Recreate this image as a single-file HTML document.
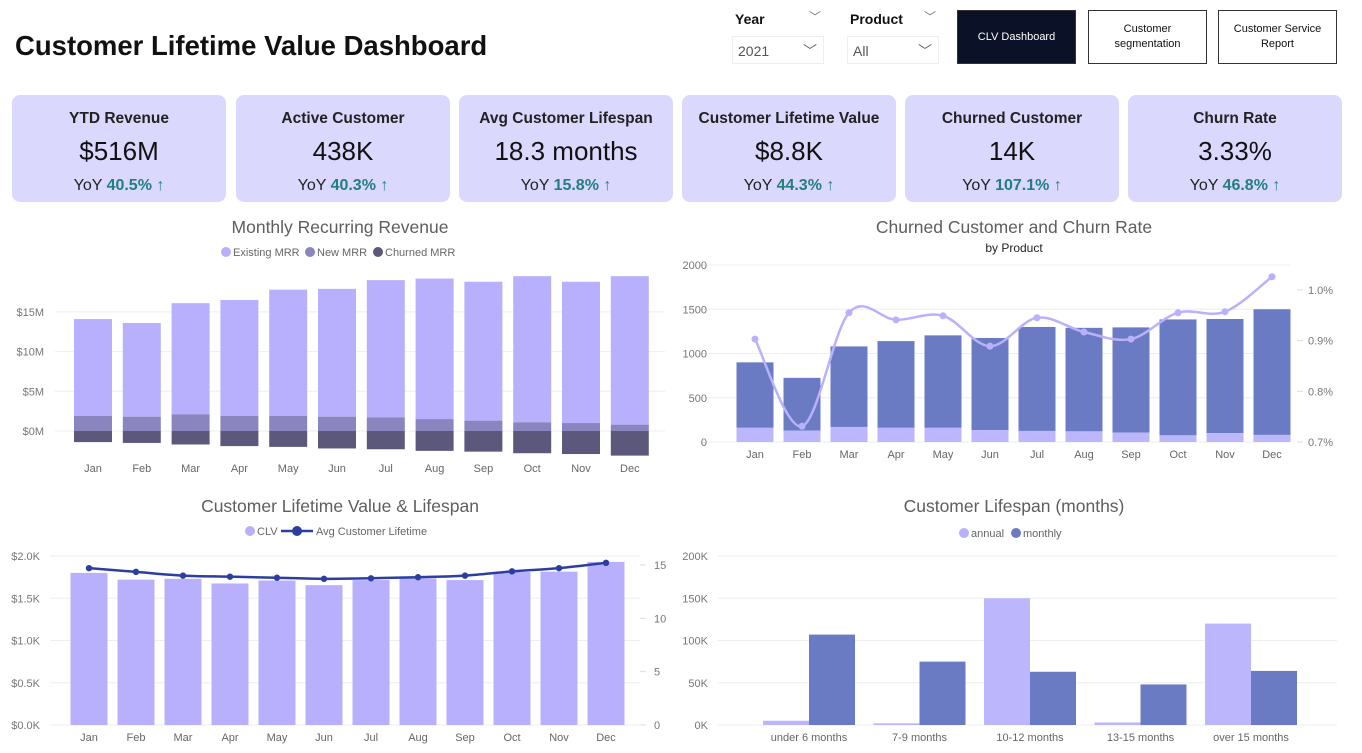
<!DOCTYPE html>
<html><head><meta charset="utf-8">
<style>
*{box-sizing:border-box;margin:0;padding:0}
body{width:1362px;height:753px;background:#fff;font-family:"Liberation Sans",sans-serif;position:relative;overflow:hidden;color:#111}
.abs{position:absolute}
.card{position:absolute;top:95px;height:107px;width:214px;background:#dbd8fd;border-radius:8px;text-align:center}
.card .t{position:absolute;top:15px;width:100%;font-size:15.5px;font-weight:bold;color:#222}
.card .v{position:absolute;top:41px;width:100%;font-size:26px;color:#111}
.card .y{position:absolute;top:82px;width:100%;font-size:16px;color:#222}
.card .y b{color:#237f7f}
.btn{position:absolute;top:10px;height:54px;width:119px;border:1px solid #333;font-size:11px;display:flex;align-items:center;justify-content:center;text-align:center;line-height:15px;background:#fff}
.lbl{position:absolute;font-size:14px;font-weight:bold}
.dd{position:absolute;top:36px;height:28px;width:92px;border:1px solid #eee;font-size:14px;color:#555;padding:6px 5px}
svg text{font-family:"Liberation Sans",sans-serif}
</style></head><body>
<div class="abs" style="left:15px;top:30px;font-size:27.5px;font-weight:bold;color:#111">Customer Lifetime Value Dashboard</div>
<div class="lbl" style="left:735px;top:11px">Year</div>
<div class="abs" style="left:809px;top:8px;font-size:12px;color:#777">﹀</div>
<div class="dd" style="left:732px">2021<span style="position:absolute;right:6px;top:4px;color:#666">﹀</span></div>
<div class="lbl" style="left:850px;top:11px">Product</div>
<div class="abs" style="left:924px;top:8px;font-size:12px;color:#777">﹀</div>
<div class="dd" style="left:847px">All<span style="position:absolute;right:6px;top:4px;color:#666">﹀</span></div>
<div class="btn" style="left:957px;background:#0b1127;color:#fff">CLV Dashboard</div>
<div class="btn" style="left:1088px">Customer<br>segmentation</div>
<div class="btn" style="left:1218px">Customer Service<br>Report</div>

<div class="card" style="left:12px"><div class="t">YTD Revenue</div><div class="v">$516M</div><div class="y">YoY <b>40.5% ↑</b></div></div>
<div class="card" style="left:236px"><div class="t">Active Customer</div><div class="v">438K</div><div class="y">YoY <b>40.3% ↑</b></div></div>
<div class="card" style="left:459px"><div class="t">Avg Customer Lifespan</div><div class="v">18.3 months</div><div class="y">YoY <b>15.8% ↑</b></div></div>
<div class="card" style="left:682px"><div class="t">Customer Lifetime Value</div><div class="v">$8.8K</div><div class="y">YoY <b>44.3% ↑</b></div></div>
<div class="card" style="left:905px"><div class="t">Churned Customer</div><div class="v">14K</div><div class="y">YoY <b>107.1% ↑</b></div></div>
<div class="card" style="left:1128px"><div class="t">Churn Rate</div><div class="v">3.33%</div><div class="y">YoY <b>46.8% ↑</b></div></div>

<svg id="charts" class="abs" style="left:0;top:0" width="1362" height="753"></svg>

<script>
const months=["Jan","Feb","Mar","Apr","May","Jun","Jul","Aug","Sep","Oct","Nov","Dec"];
// MRR (millions)
const mrrTotal=[14.1,13.6,16.1,16.5,17.8,17.9,19.0,19.2,18.8,19.5,18.8,19.5];
const mrrNew=[1.9,1.8,2.1,1.9,1.9,1.8,1.7,1.5,1.3,1.1,1.0,0.8];
const mrrChurned=[-1.4,-1.5,-1.7,-1.9,-2.0,-2.2,-2.3,-2.5,-2.6,-2.8,-2.9,-3.1];
const mrrTicks=["$0M","$5M","$10M","$15M"];
// Churn
const churnTotal=[900,725,1080,1140,1205,1175,1300,1290,1295,1385,1390,1500];
const churnLight=[160,130,170,160,160,135,125,120,105,75,100,80];
const churnRate=[0.903,0.731,0.955,0.941,0.949,0.889,0.945,0.917,0.903,0.955,0.957,1.026];
const churnTicks=["0","500","1000","1500","2000"];
const rateTicks=["0.7%","0.8%","0.9%","1.0%"];
// CLV
const clv=[1800,1720,1730,1675,1710,1655,1715,1735,1715,1810,1815,1930];
const lifetime=[14.7,14.35,14.0,13.9,13.8,13.7,13.75,13.85,14.0,14.4,14.7,15.2];
const clvTicks=["$0.0K","$0.5K","$1.0K","$1.5K","$2.0K"];
const lifeTicks=["0","5","10","15"];
// Lifespan
const spanCats=["under 6 months","7-9 months","10-12 months","13-15 months","over 15 months"];
const spanAnnual=[5,2,150,3,120];
const spanMonthly=[107,75,63,48,64];
const spanTicks=["0K","50K","100K","150K","200K"];

const svg=document.getElementById('charts');
const NS="http://www.w3.org/2000/svg";
function el(tag,attrs,parent){const e=document.createElementNS(NS,tag);for(const k in attrs)e.setAttribute(k,attrs[k]);(parent||svg).appendChild(e);return e;}
function txt(x,y,s,size,fill,anchor,parent,weight){const t=el('text',{x:x,y:y,'font-size':size,fill:fill,'text-anchor':anchor||'middle','font-weight':weight||'normal'},parent);t.textContent=s;return t;}
function grp(name){const g=el('g',{});return g;}
function legendDot(g,x,y,c,label){el('circle',{cx:x,cy:y,r:5,fill:c},g);txt(x+7,y+4,label,11,'#666','start',g);}
function smooth(pts){let d="M"+pts[0][0]+","+pts[0][1];for(let i=0;i<pts.length-1;i++){const p0=pts[Math.max(0,i-1)],p1=pts[i],p2=pts[i+1],p3=pts[Math.min(pts.length-1,i+2)];const c1x=p1[0]+(p2[0]-p0[0])/6,c1y=p1[1]+(p2[1]-p0[1])/6,c2x=p2[0]-(p3[0]-p1[0])/6,c2y=p2[1]-(p3[1]-p1[1])/6;d+=" C"+c1x+","+c1y+" "+c2x+","+c2y+" "+p2[0]+","+p2[1];}return d;}

// ---- Chart 1 MRR
(function(){
 const g=grp('mrr-chart');
 txt(340,233,"Monthly Recurring Revenue",17.5,'#605e5c','middle',g);
 legendDot(g,226,252,'#b8b0fc','Existing MRR');legendDot(g,310,252,'#8a84bf','New MRR');legendDot(g,378,252,'#5b587c','Churned MRR');
 const y=v=>431-v*7.94, x=i=>93+i*48.8;
 mrrTicks.forEach((t,i)=>{el('line',{x1:55,x2:665,y1:y(i*5),y2:y(i*5),stroke:'#eee'},g);txt(44,y(i*5)+4,t,11,'#777','end',g);});
 months.forEach((m,i)=>{
  const b1=el('rect',{x:x(i)-19,y:y(mrrTotal[i]),width:38,height:y(mrrNew[i])-y(mrrTotal[i]),fill:'#b8b0fc'},g);
  const b2=el('rect',{x:x(i)-19,y:y(mrrNew[i]),width:38,height:y(0)-y(mrrNew[i]),fill:'#8a84bf'},g);
  const b3=el('rect',{x:x(i)-19,y:y(0),width:38,height:y(mrrChurned[i])-y(0),fill:'#5b587c'},g);
  txt(x(i),472,m,11,'#666','middle',g);
 });
})();

// ---- Chart 2 Churn
(function(){
 const g=grp('churn-chart');
 txt(1014,233,"Churned Customer and Churn Rate",17.5,'#605e5c','middle',g);
 txt(1014,252,"by Product",12,'#222','middle',g);
 const y=v=>442-v*0.0885, yr=v=>442-(v-0.7)*507, x=i=>755+i*47;
 churnTicks.forEach((t,i)=>{el('line',{x1:700,x2:1290,y1:y(i*500),y2:y(i*500),stroke:'#eee'},g);txt(707,y(i*500)+4,t,11,'#777','end',g);});
 rateTicks.forEach((t,i)=>{const v=0.7+i*0.1;el('line',{x1:1297,x2:1303,y1:yr(v),y2:yr(v),stroke:'#ddd'},g);txt(1308,yr(v)+4,t,11,'#777','start',g);});
 months.forEach((m,i)=>{
  const b=el('rect',{x:x(i)-18.5,y:y(churnTotal[i]),width:37,height:y(churnLight[i])-y(churnTotal[i]),fill:'#6a7bc4'},g);
  const b2=el('rect',{x:x(i)-18.5,y:y(churnLight[i]),width:37,height:y(0)-y(churnLight[i]),fill:'#bcb6fc'},g);
  txt(x(i),458,m,11,'#666','middle',g);
 });
 const pts=churnRate.map((v,i)=>[x(i),yr(v)]);
 const l=el('path',{d:smooth(pts),fill:'none',stroke:'#b9b1fb','stroke-width':2.5},g);
 pts.forEach((p,i)=>{const c=el('circle',{cx:p[0],cy:p[1],r:3.5,fill:'#b9b1fb'},g);});
})();

// ---- Chart 3 CLV
(function(){
 const g=grp('clv-chart');
 txt(340,512,"Customer Lifetime Value & Lifespan",17.5,'#605e5c','middle',g);
 el('circle',{cx:250,cy:531,r:5,fill:'#b8b0fc'},g);txt(257,535,'CLV',11,'#666','start',g);
 el('line',{x1:281,x2:313,y1:531,y2:531,stroke:'#2c3fa0','stroke-width':2.5},g);el('circle',{cx:297,cy:531,r:5,fill:'#2c3fa0'},g);txt(316,535,'Avg Customer Lifetime',11,'#666','start',g);
 const y=v=>725-v*0.0845, yr=v=>725-v*10.67, x=i=>89+i*47;
 clvTicks.forEach((t,i)=>{el('line',{x1:50,x2:640,y1:y(i*500),y2:y(i*500),stroke:'#eee'},g);txt(40,y(i*500)+4,t,11,'#777','end',g);});
 lifeTicks.forEach((t,i)=>{const v=i*5;el('line',{x1:640,x2:646,y1:yr(v),y2:yr(v),stroke:'#ddd'},g);txt(654,yr(v)+4,t,11,'#777','start',g);});
 months.forEach((m,i)=>{
  const b=el('rect',{x:x(i)-18.5,y:y(clv[i]),width:37,height:y(0)-y(clv[i]),fill:'#b8b0fc'},g);
  txt(x(i),741,m,11,'#666','middle',g);
 });
 const pts=lifetime.map((v,i)=>[x(i),yr(v)]);
 const l=el('path',{d:smooth(pts),fill:'none',stroke:'#2c3fa0','stroke-width':2.5},g);
 pts.forEach((p,i)=>{const c=el('circle',{cx:p[0],cy:p[1],r:3.2,fill:'#2c3fa0'},g);});
})();

// ---- Chart 4 Lifespan
(function(){
 const g=grp('lifespan-chart');
 txt(1014,512,"Customer Lifespan (months)",17.5,'#605e5c','middle',g);
 legendDot(g,964,533,'#b8b0fc','annual');legendDot(g,1016,533,'#6a7bc4','monthly');
 const y=v=>725-v*0.845, x=i=>809+i*110.5;
 spanTicks.forEach((t,i)=>{el('line',{x1:718,x2:1337,y1:y(i*50),y2:y(i*50),stroke:'#eee'},g);txt(708,y(i*50)+4,t,11,'#777','end',g);});
 spanCats.forEach((c,i)=>{
  const a=el('rect',{x:x(i)-46,y:y(spanAnnual[i]),width:46,height:y(0)-y(spanAnnual[i]),fill:'#bcb6fc'},g);
  const m=el('rect',{x:x(i),y:y(spanMonthly[i]),width:46,height:y(0)-y(spanMonthly[i]),fill:'#6a7bc4'},g);
  txt(x(i),741,c,11,'#666','middle',g);
 });
})();
</script>
</body></html>
